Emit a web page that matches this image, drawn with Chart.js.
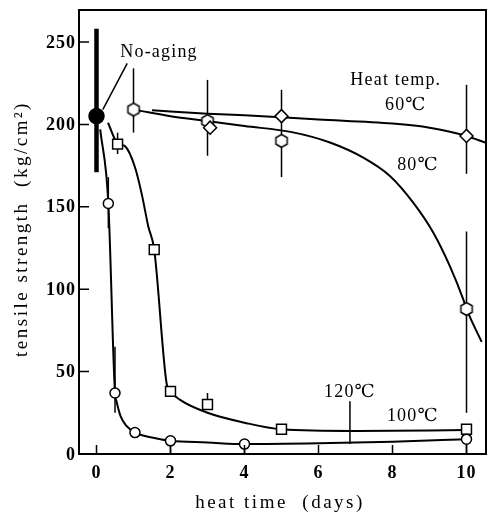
<!DOCTYPE html>
<html>
<head>
<meta charset="utf-8">
<script src="https://cdn.jsdelivr.net/npm/chart.js@4.4.1/dist/chart.umd.min.js"></script>
<style>
  html, body { margin: 0; padding: 0; background: #fff; }
</style>
</head>
<body>
<canvas id="chart" width="488" height="515"></canvas>
<script>
// tick labels
const xTicks = [0, 2, 4, 6, 8, 10];
const yTicks = [0, 50, 100, 150, 200, 250];

// measured points (heat time in days, tensile strength in kg/cm2)
const noAging = [{x: 0, y: 205}];
const temp60 = [{x: 3.07, y: 198}, {x: 5, y: 205}, {x: 10, y: 193}];
const temp80 = [{x: 1, y: 209}, {x: 3, y: 202}, {x: 5, y: 190}, {x: 10, y: 88}];
const temp100 = [{x: 0.32, y: 152}, {x: 0.5, y: 37}, {x: 1.04, y: 13}, {x: 2, y: 8}, {x: 4, y: 6}, {x: 10, y: 9}];
const temp120 = [{x: 0.57, y: 188}, {x: 1.56, y: 124}, {x: 2, y: 38}, {x: 3, y: 30}, {x: 5, y: 15}, {x: 10, y: 15}];

// hand drawn fit curves
const curve60 = [[1.5, 208.5], [3, 206.5], [4, 205.5], [6, 203], [8, 200.5], [9, 198], [10, 193], [10.5, 189]];
const curve80 = [[1.1, 208.5], [2, 205], [3, 202], [4, 199], [5.28, 195.3], [6.31, 189], [7.21, 179.8], [7.93, 168.7], [8.56, 152.5], [9.1, 134.4], [9.55, 114], [9.91, 94], [10, 88], [10.41, 68]];
const curve100 = [[0.1, 197], [0.32, 152], [0.5, 37], [0.54, 32], [0.65, 23], [0.81, 17], [1.04, 13], [1.5, 10], [2, 8], [3, 7], [4, 6], [6, 6.5], [8, 7.5], [10, 9]];
const curve120 = [[0.31, 201], [0.57, 188.5], [0.77, 186.8], [1.04, 174], [1.22, 158], [1.4, 138], [1.56, 124], [1.89, 43.5], [2, 38], [2.25, 33], [3, 25], [4, 19], [5, 15], [7, 14], [10, 14.5]];

// error bars: [x, low, high]
const noAgingErr = [[0, 171, 258]];
const errBars = [
    [1, 195, 234], [3, 181, 227], [5, 168, 221], [10, 170, 224], [10, 25, 135],
    [0.32, 137, 168], [0.5, 25, 65], [2, 0, 8], [4, 0, 6], [10, 0, 9],
    [0.57, 182, 195], [3, 27, 37]
];

const ink = "#000";
const serif = '"Liberation Serif", "DejaVu Serif", serif';

function pts(arr) {
    return arr.map(p => ({x: p[0], y: p[1]}));
}

// open hexagon marker
const hex = document.createElement("canvas");
hex.width = 16;
hex.height = 16;
(function () {
    const c = hex.getContext("2d");
    c.beginPath();
    for (let i = 0; i < 6; i++) {
        const a = Math.PI / 2 + i * Math.PI / 3;
        c.lineTo(8 + 6.5 * Math.cos(a), 8 + 6.5 * Math.sin(a));
    }
    c.closePath();
    c.fillStyle = "#fff";
    c.fill();
    c.lineWidth = 1.5;
    c.strokeStyle = ink;
    c.stroke();
})();

function curve(data) {
    return {
        type: "line",
        order: 2,
        data: pts(data),
        borderColor: ink,
        borderWidth: 2,
        pointRadius: 0,
        cubicInterpolationMode: "monotone"
    };
}

function marks(data, style, r, fill) {
    return {
        type: "scatter",
        order: 1,
        data: data,
        pointStyle: style,
        pointRadius: r,
        pointBackgroundColor: fill || "#fff",
        pointBorderColor: ink,
        pointBorderWidth: 1.5
    };
}

function vbar(ctx, x, y, e) {
    ctx.beginPath();
    ctx.moveTo(x.getPixelForValue(e[0]), y.getPixelForValue(e[1]));
    ctx.lineTo(x.getPixelForValue(e[0]), y.getPixelForValue(e[2]));
    ctx.stroke();
}

const decor = {
    id: "decor",
    beforeDatasetsDraw(chart) {
        const {ctx, scales: {x, y}} = chart;
        ctx.save();
        ctx.strokeStyle = ink;
        ctx.lineWidth = 1.5;
        errBars.forEach(e => vbar(ctx, x, y, e));
        ctx.lineWidth = 4.5;
        noAgingErr.forEach(e => vbar(ctx, x, y, e));
        // leader lines
        ctx.lineWidth = 1.5;
        ctx.beginPath();
        ctx.moveTo(x.getPixelForValue(0.83), y.getPixelForValue(237));
        ctx.lineTo(x.getPixelForValue(0.17), y.getPixelForValue(209));
        ctx.moveTo(x.getPixelForValue(6.85), y.getPixelForValue(32));
        ctx.lineTo(x.getPixelForValue(6.85), y.getPixelForValue(6));
        ctx.stroke();
        ctx.restore();
    },
    afterDatasetsDraw(chart) {
        const {ctx, chartArea: a, scales: {x, y}} = chart;
        ctx.save();
        ctx.strokeStyle = ink;
        ctx.lineWidth = 1.5;
        ctx.beginPath();
        yTicks.forEach(v => {
            const py = y.getPixelForValue(v);
            ctx.moveTo(a.left, py);
            ctx.lineTo(a.left + 10, py);
        });
        xTicks.forEach(v => {
            const px = x.getPixelForValue(v);
            ctx.moveTo(px, a.bottom);
            ctx.lineTo(px, a.bottom - 9);
        });
        ctx.stroke();
        ctx.lineWidth = 2;
        ctx.strokeRect(a.left, a.top, a.right - a.left, a.bottom - a.top);

        ctx.fillStyle = ink;
        ctx.textBaseline = "middle";

        // tick labels
        ctx.font = "bold 18px " + serif;
        ctx.letterSpacing = "1px";
        ctx.textAlign = "right";
        yTicks.forEach(v => ctx.fillText(String(v), a.left - 3, y.getPixelForValue(v) + 1));
        ctx.textAlign = "center";
        xTicks.forEach(v => ctx.fillText(String(v), x.getPixelForValue(v), a.bottom + 19));

        // in-plot labels
        ctx.font = "18px " + serif;
        ctx.letterSpacing = "1.2px";
        const label = (t, vx, vy) => ctx.fillText(t, x.getPixelForValue(vx), y.getPixelForValue(vy));
        label("No-aging", 1.69, 244);
        label("Heat temp.", 8.09, 227);
        label("60℃", 8.36, 211.5);
        label("80℃", 8.69, 175);
        label("120℃", 6.85, 37.6);
        label("100℃", 8.55, 23);

        // axis titles
        ctx.font = "19px " + serif;
        ctx.letterSpacing = "2.5px";
        ctx.fillText("heat time  (days)", 280, 503);
        ctx.translate(22, 229);
        ctx.rotate(-Math.PI / 2);
        ctx.fillText("tensile strength  (kg/cm²)", 0, 0);
        ctx.restore();
    }
};

const chart = new Chart("chart", {
    data: {
        datasets: [
            curve(curve60),
            curve(curve80),
            curve(curve100),
            curve(curve120),
            marks(temp60, "rectRot", 6.5),
            marks(temp80, hex, 6.5),
            marks(temp100, "circle", 5),
            marks(temp120, "rect", 7),
            marks(noAging, "circle", 7.5, ink)
        ]
    },
    options: {
        responsive: false,
        devicePixelRatio: 1,
        animation: false,
        layout: {autoPadding: false, padding: {top: 10, right: 2, left: 0, bottom: 0}},
        scales: {
            x: {
                type: "linear",
                min: -0.473,
                max: 10.527,
                grid: {display: false, drawTicks: false},
                border: {display: false},
                afterFit: s => { s.height = 61; },
                ticks: {display: false}
            },
            y: {
                type: "linear",
                min: 0,
                max: 269.4,
                grid: {display: false, drawTicks: false},
                border: {display: false},
                afterFit: s => { s.width = 79; },
                ticks: {display: false}
            }
        },
        plugins: {
            legend: {display: false},
            tooltip: {enabled: false}
        }
    },
    plugins: [decor]
});
</script>
</body>
</html>
